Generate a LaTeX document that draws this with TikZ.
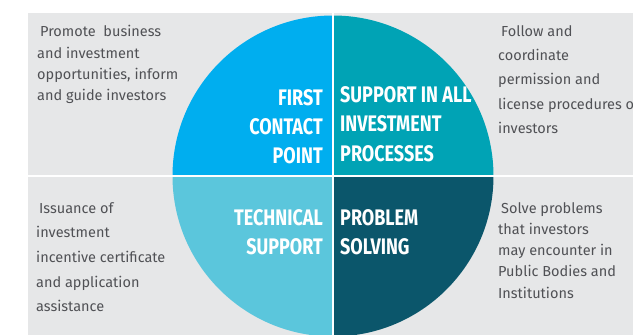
\documentclass[tikz,border=0pt]{standalone}
\usepackage{fontspec}
\setmainfont{Fira Sans}
\newfontfamily\titlefont[FakeStretch=0.8]{Fira Sans}
\definecolor{bggrey}{HTML}{E6E7E8}
\definecolor{qblue}{HTML}{00AEEF}
\definecolor{qteal}{HTML}{00A3B5}
\definecolor{qlight}{HTML}{5BC6DC}
\definecolor{qdark}{HTML}{0B566B}
\definecolor{bodytext}{HTML}{505155}
\tikzset{
  bodynode/.style={inner sep=0pt, anchor=base west, text=bodytext},
  titleL/.style={inner sep=0pt, anchor=base east, text=white},
  titleR/.style={inner sep=0pt, anchor=base west, text=white},
}
\newcommand{\bodyblock}[2]{\parbox[t]{200pt}{\fontsize{14.5}{#1}\selectfont\raggedright #2}}
\newcommand{\titleblockL}[1]{\parbox[t]{150pt}{\titlefont\bfseries\fontsize{22.5}{29}\selectfont\raggedleft #1}}
\newcommand{\titleblockR}[1]{\parbox[t]{170pt}{\titlefont\bfseries\fontsize{22.5}{29.5}\selectfont\raggedright #1}}
\begin{document}
\begin{tikzpicture}[x=1pt,y=-1pt]
\clip (0,0) rectangle (633,335);
\useasboundingbox (0,0) rectangle (633,335);
\fill[white] (0,0) rectangle (633,335);
\fill[bggrey] (28,13) rectangle (633,335);
\begin{scope}
  \clip (0,0) rectangle (333,176);
  \fill[qblue] (333,176) circle[radius=160.5];
\end{scope}
\begin{scope}
  \clip (333,0) rectangle (633,176);
  \fill[qteal] (333,176) circle[radius=160.5];
\end{scope}
\begin{scope}
  \clip (0,176) rectangle (333,335);
  \fill[qlight] (333,176) circle[radius=160.5];
\end{scope}
\begin{scope}
  \clip (333,176) rectangle (633,335);
  \fill[qdark] (333,176) circle[radius=160.5];
\end{scope}
\draw[white, line width=2pt] (28,176) -- (633,176);
\draw[white, line width=2pt] (333,13) -- (333,335);
% titles
\node[titleL] (first) at (323,105) {\titleblockL{FIRST\\CONTACT\\POINT}};
\node[titleR] (support) at (340,102) {\titleblockR{SUPPORT IN ALL\\INVESTMENT\\PROCESSES}};
\node[titleL] (technical) at (323,225) {\titleblockL{TECHNICAL\\SUPPORT}};
\node[titleR] (problem) at (340,225) {\titleblockR{PROBLEM\\SOLVING}};
% body texts
\node[bodynode] (promote) at (37,36.7) {\bodyblock{21.3}{\hspace{3pt}Promote\ \ business\\and investment\\opportunities, inform\\and guide investors}};
\node[bodynode] (follow) at (498,36.7) {\bodyblock{24.1}{\hspace{3pt}Follow and\\coordinate\\permission and\\license procedures of\\investors}};
\node[bodynode] (issuance) at (36,213.3) {\bodyblock{24.6}{\hspace{3pt}Issuance of\\investment\\incentive certificate\\and application\\assistance}};
\node[bodynode] (solve) at (498,213) {\bodyblock{21.3}{\hspace{3pt}Solve problems\\that investors\\may encounter in\\Public Bodies and\\Institutions}};
\end{tikzpicture}
\end{document}
